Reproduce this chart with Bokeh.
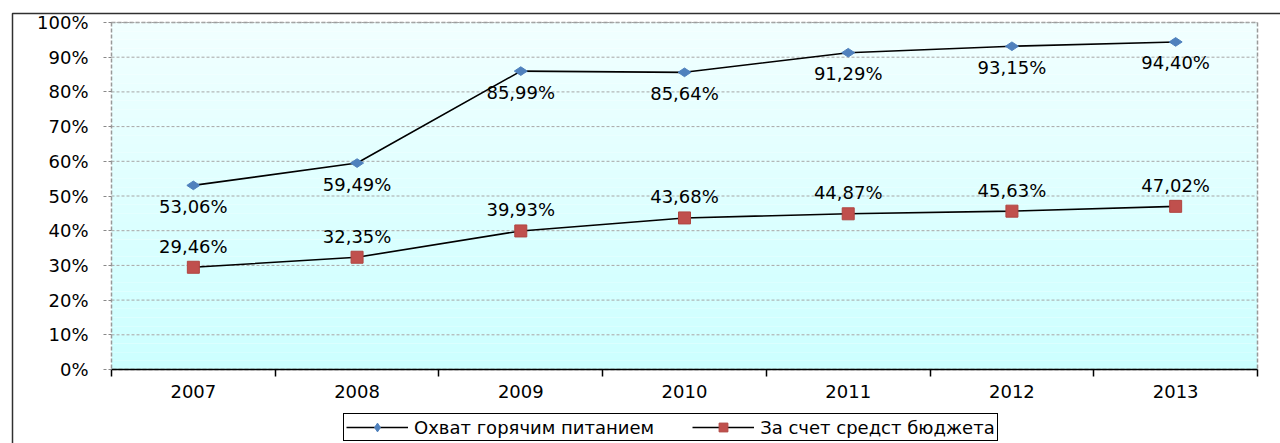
from bokeh.plotting import figure
from bokeh.models import (Range1d, FixedTicker, PrintfTickFormatter, BoxAnnotation,
                          Legend, LegendItem, ColumnDataSource)
from bokeh.core.properties import value
from bokeh.embed import file_html
from bokeh.resources import INLINE

years = [2007, 2008, 2009, 2010, 2011, 2012, 2013]
coverage = [53.06, 59.49, 85.99, 85.64, 91.29, 93.15, 94.40]
budget = [29.46, 32.35, 39.93, 43.68, 44.87, 45.63, 47.02]
series_names = ["Охват горячим питанием", "За счет средст бюджета"]
y_ticks = [0, 10, 20, 30, 40, 50, 60, 70, 80, 90, 100]

def fmt(v):
    return f"{v:.2f}".replace(".", ",") + "%"

FONT = "DejaVu Sans"

# layout (pixels)
W, H = 1280, 443
PL, PR, PT, PB = 111, 1257, 22, 369

x0, x1 = years[0] - 0.5, years[-1] + 0.5
y0, y1 = 0, 100
sx = (PR - PL) / (x1 - x0)
sy = (PB - PT) / (y1 - y0)
xr = Range1d(x0 - PL / sx, x1 + (W - PR) / sx)
yr = Range1d(y0 - (H - PB) / sy, y1 + PT / sy)

src1 = ColumnDataSource(dict(x=years, y=coverage, t=[fmt(v) for v in coverage]))
src2 = ColumnDataSource(dict(x=years, y=budget, t=[fmt(v) for v in budget]))

p = figure(width=W, height=H, output_backend="svg", toolbar_location=None,
           x_range=xr, y_range=yr, min_border=0,
           min_border_left=0, min_border_right=0, min_border_top=0, min_border_bottom=0)
p.background_fill_color = "white"
p.border_fill_color = "white"
p.outline_line_color = None
p.xgrid.visible = False
p.ygrid.visible = False

# gradient plot-area background
nb = 40
c_top = (242, 255, 255)
c_bot = (204, 255, 255)
for i in range(nb):
    f = (i + 0.5) / nb
    r = int(c_bot[0] + (c_top[0] - c_bot[0]) * f)
    g = int(c_bot[1] + (c_top[1] - c_bot[1]) * f)
    b = int(c_bot[2] + (c_top[2] - c_bot[2]) * f)
    p.add_layout(BoxAnnotation(left=x0, right=x1, bottom=y0 + (y1 - y0) * i / nb,
                               top=y0 + (y1 - y0) * (i + 1) / nb,
                               fill_color=f"#{r:02x}{g:02x}{b:02x}", fill_alpha=1,
                               line_alpha=0, level="image"))

# plot-area dashed outline
p.add_layout(BoxAnnotation(left=x0, right=x1, bottom=y0, top=y1, fill_alpha=0,
                           line_color="#999999", line_alpha=1, line_dash="4 2",
                           line_width=1.5, level="underlay"))

# outer chart frame (screen units: y measured upward from the bottom)
p.add_layout(BoxAnnotation(left=12, right=W + 100, top=H - 13, bottom=-100,
                           left_units="screen", right_units="screen",
                           top_units="screen", bottom_units="screen",
                           fill_alpha=0, line_color="#303030", line_alpha=1,
                           line_width=1.5, level="overlay"))

# horizontal gridlines
p.segment(x0=x0, x1=x1, y0=y_ticks[1:], y1=y_ticks[1:], line_color="#a6a6a6",
          line_dash="3 2", line_width=1)

xa = p.xaxis[0]
xa.fixed_location = y0
xa.bounds = (x0, x1)
xa.ticker = FixedTicker(ticks=years, minor_ticks=[y - 0.5 for y in years] + [years[-1] + 0.5])
xa.major_tick_line_alpha = 0
xa.major_tick_out = 0
xa.major_tick_in = 0
xa.minor_tick_out = 7
xa.minor_tick_in = 0
xa.minor_tick_line_color = "black"
xa.minor_tick_line_width = 1.5
xa.axis_line_color = "black"
xa.axis_line_width = 1.5
xa.major_label_standoff = 8
xa.major_label_text_font = FONT
xa.major_label_text_font_size = "18px"
xa.major_label_text_color = "black"

ya = p.yaxis[0]
ya.fixed_location = x0
ya.bounds = (y0, y1)
ya.ticker = FixedTicker(ticks=y_ticks, minor_ticks=[])
ya.formatter = PrintfTickFormatter(format="%d%%")
ya.axis_line_alpha = 0
ya.major_tick_out = 8
ya.major_tick_in = 0
ya.major_tick_line_color = "#888888"
ya.major_tick_line_dash = "3 2"
ya.major_label_standoff = 15
ya.major_label_text_font = FONT
ya.major_label_text_font_size = "18px"
ya.major_label_text_color = "black"

l1 = p.line("x", "y", source=src1, line_color="black", line_width=1.6)
m1 = p.scatter("x", "y", source=src1, marker="diamond", size=13, angle=1.5708,
               fill_color="#4f81bd", line_color="#4f81bd")
l2 = p.line("x", "y", source=src2, line_color="black", line_width=1.6)
m2 = p.scatter("x", "y", source=src2, marker="square", size=12,
               fill_color="#c0504d", line_color="#b04540")

p.text("x", "y", text="t", source=src1, y_offset=21, text_align="center",
       text_baseline="middle", text_font=value(FONT), text_font_size="18px",
       text_color="black")
p.text("x", "y", text="t", source=src2, y_offset=-21, text_align="center",
       text_baseline="middle", text_font=value(FONT), text_font_size="18px",
       text_color="black")

legend = Legend(items=[LegendItem(label=series_names[0], renderers=[l1, m1]),
                       LegendItem(label=series_names[1], renderers=[l2, m2])],
                orientation="horizontal", location=(343, 2))
legend.border_line_color = "black"
legend.border_line_width = 1
legend.border_line_alpha = 1
legend.background_fill_color = "white"
legend.background_fill_alpha = 1
legend.label_text_font = FONT
legend.label_text_font_size = "18px"
legend.label_text_color = "black"
legend.glyph_width = 62
legend.glyph_height = 22
legend.label_standoff = 6
legend.spacing = 38
legend.padding = 2
legend.margin = 0
legend.label_height = 17
p.add_layout(legend, "center")

open("out.html", "w").write(file_html(p, INLINE))
